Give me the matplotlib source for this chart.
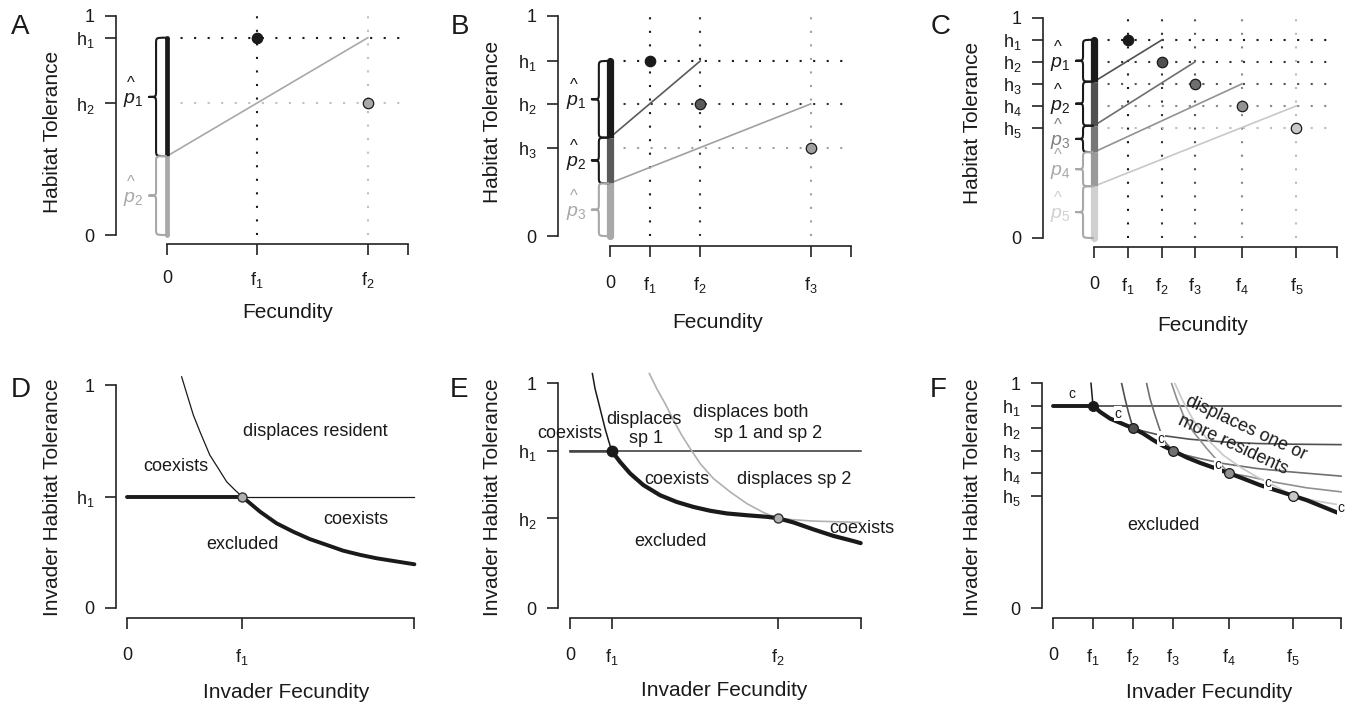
import matplotlib
matplotlib.use('Agg')
import matplotlib.pyplot as plt
from matplotlib.path import Path
from matplotlib.patches import PathPatch

plt.rcParams['font.family'] = ['Liberation Sans', 'DejaVu Sans']
plt.rcParams['mathtext.fontset'] = 'custom'
plt.rcParams['mathtext.rm'] = 'Liberation Sans'
plt.rcParams['mathtext.it'] = 'Liberation Sans:italic'

W, H = 1350, 707

# ---------------- data: top row (fecundity / tolerance trade-off) ----------
a_fec = [1.0, 2.23]
a_tol = [0.9, 0.6]
a_cut = [0.36]              # boundaries between p-hat segments on the bar
a_xmax = 2.68

b_fec = [1.0, 2.25, 5.0]
b_tol = [0.795, 0.6, 0.4]
b_cut = [0.447, 0.24]
b_xmax = 6.0

c_fec = [1.0, 2.0, 2.97, 4.35, 5.95]
c_tol = [0.9, 0.8, 0.7, 0.6, 0.5]
c_cut = [0.71, 0.51, 0.39, 0.235]
c_xmax = 7.15

# ---------------- data: bottom row (invasion boundaries) -------------------
d_f1, d_h1, d_xmax = 1.0, 0.5, 2.5
d_thin_x = [0.475, 0.524, 0.577, 0.635, 0.72, 0.794, 0.867, 0.939, 1.0]
d_thin_y = [1.037, 0.954, 0.865, 0.79, 0.686, 0.626, 0.566, 0.529, 0.5]
d_thick_x = [1.0, 1.157, 1.30, 1.446, 1.59, 1.736, 1.88, 2.03, 2.17, 2.316, 2.5]
d_thick_y = [0.5, 0.432, 0.38, 0.342, 0.309, 0.283, 0.257, 0.238, 0.223, 0.211, 0.196]

e_fec = [1.0, 5.0]
e_tol = [0.7, 0.4]
e_xmax = 7.0
e_thin_x = [0.538, 0.602, 0.683, 0.763, 0.843, 0.924, 1.0]
e_thin_y = [1.043, 0.976, 0.917, 0.858, 0.799, 0.747, 0.702]
e_thick_x = [1.0, 1.205, 1.446, 1.767, 2.169, 2.57, 2.97, 3.373, 3.775, 4.257,
             4.739, 5.0, 5.382, 5.863, 6.345, 6.827, 7.0]
e_thick_y = [0.7, 0.65, 0.599, 0.547, 0.502, 0.472, 0.45, 0.433, 0.421, 0.413,
             0.406, 0.4, 0.381, 0.35, 0.321, 0.298, 0.289]
e_gray_x = [1.911, 2.088, 2.289, 2.49, 2.69, 2.892, 3.133, 3.454, 3.855, 4.257,
            4.659, 5.0, 5.382, 5.863, 6.426, 7.0]
e_gray_y = [1.043, 0.976, 0.91, 0.836, 0.769, 0.71, 0.643, 0.576, 0.517, 0.465,
            0.425, 0.4, 0.393, 0.387, 0.384, 0.381]

f_fec = [1.0, 2.0, 3.0, 4.4, 6.0]
f_tol = [0.9, 0.8, 0.7, 0.6, 0.5]
f_xmax = 7.2
f_thin_x = [0.95, 1.0]
f_thin_y = [1.0, 0.9]
f_thick_x = [1.0, 1.175, 1.425, 1.717, 2.0, 2.258, 2.508, 2.758, 3.0, 3.342, 3.675,
             4.008, 4.4, 4.758, 5.175, 5.592, 6.0, 6.342, 6.758, 7.2]
f_thick_y = [0.9, 0.873, 0.843, 0.821, 0.8, 0.776, 0.747, 0.721, 0.7, 0.67, 0.646,
             0.625, 0.6, 0.576, 0.547, 0.523, 0.5, 0.48, 0.45, 0.418]
f_res_x = [
    [1.717, 1.8, 1.883, 2.0, 2.258, 2.675, 3.425, 4.258, 5.092, 5.925, 7.2],
    [2.342, 2.425, 2.55, 2.675, 2.8, 3.0, 3.258, 3.675, 4.258, 5.092, 5.925, 7.2],
    [2.967, 3.092, 3.258, 3.508, 3.842, 4.175, 4.4, 4.842, 5.508, 6.342, 7.2],
    [3.05, 3.258, 3.508, 3.842, 4.258, 4.675, 5.092, 5.508, 6.0, 6.592, 7.2],
]
f_res_y = [
    [0.998, 0.932, 0.873, 0.8, 0.787, 0.769, 0.751, 0.739, 0.732, 0.729, 0.727],
    [0.998, 0.932, 0.858, 0.791, 0.739, 0.7, 0.683, 0.665, 0.643, 0.621, 0.606, 0.587],
    [0.998, 0.932, 0.858, 0.784, 0.71, 0.643, 0.6, 0.587, 0.561, 0.535, 0.517],
    [0.998, 0.917, 0.836, 0.754, 0.68, 0.628, 0.584, 0.547, 0.5, 0.476, 0.458],
]
f_c_x = [0.47, 1.62, 2.69, 4.13, 5.38, 7.19]
f_c_y = [0.954, 0.865, 0.754, 0.636, 0.557, 0.443]

INK = '#1a1a1a'
fig = plt.figure(figsize=(W / 100, H / 100), dpi=100)


def px_axes(box, xlim, ylim):
    L, T, R, B = box
    ax = fig.add_axes([L / W, 1 - B / H, (R - L) / W, (B - T) / H])
    ax.set_xlim(*xlim)
    ax.set_ylim(*ylim)
    ax.patch.set_visible(False)
    for s in ['top', 'right']:
        ax.spines[s].set_visible(False)
    for s in ['left', 'bottom']:
        ax.spines[s].set_linewidth(1.2)
        ax.spines[s].set_color('#222222')
    return ax


def r_ticks(ax, xt, xl, yt, yl, xmax, xpad=13):
    ax.spines['left'].set_bounds(0, 1)
    ax.spines['bottom'].set_bounds(0, xmax)
    ax.set_xticks(xt, xl)
    ax.set_yticks(yt, yl)
    ax.tick_params(axis='both', direction='out', length=8, width=1.2,
                   color='#222222', labelsize=13, labelcolor=INK)
    ax.tick_params(axis='x', pad=xpad)
    ax.tick_params(axis='y', pad=7.5)


def scale(ax):
    p0 = ax.transData.transform((0, 0))
    p1 = ax.transData.transform((1, 1))
    return p1[0] - p0[0], p1[1] - p0[1]


def brace(ax, y_top, y_bot, color):
    u, v = scale(ax)
    xt, xl, xh = -18 / u, -11 / u, -1 / u
    r = min(6 / v, (y_top - y_bot) / 4)
    ym = (y_top + y_bot) / 2
    verts = [(xh, y_top), (xl, y_top), (xl, y_top), (xl, y_top - r),
             (xl, ym + r), (xl, ym), (xl, ym), (xt, ym),
             (xl, ym), (xl, ym), (xl, ym - r),
             (xl, y_bot + r), (xl, y_bot), (xl, y_bot), (xh, y_bot)]
    codes = [Path.MOVETO, Path.CURVE4, Path.CURVE4, Path.CURVE4,
             Path.LINETO, Path.CURVE4, Path.CURVE4, Path.CURVE4,
             Path.CURVE4, Path.CURVE4, Path.CURVE4,
             Path.LINETO, Path.CURVE4, Path.CURVE4, Path.CURVE4]
    ax.add_patch(PathPatch(Path(verts, codes), fc='none', ec=color, lw=1.5,
                           zorder=5, capstyle='round', joinstyle='round'))


def phat(ax, k, ym, color):
    # italic p with a detached caret above it
    u, v = scale(ax)
    ax.text(-34 / u, ym - 6 / v, '$p_\\mathit{%d}$' % k,
            color=color, fontsize=14, ha='center', va='baseline')
    ax.text(-36 / u, ym + 9 / v, '^', color=color, fontsize=12,
            ha='center', va='baseline')


def top_panel(ax, fec, tol, cuts, xmax, sp_cols, dot_cols, bar_cols,
              brace_cols, lab_cols, bar_lw):
    dots = (0, (1.0, 5.5))
    for f, c in zip(fec, dot_cols):
        ax.plot([f, f], [0, 1], color=c, lw=1.5, ls=dots, zorder=1)
    for h, c in zip(tol, dot_cols):
        ax.plot([0, xmax], [h, h], color=c, lw=1.5, ls=dots, zorder=1)
    for i, cut in enumerate(cuts):
        ax.plot([0, fec[i + 1]], [cut, tol[i]], color=sp_cols[i + 1],
                lw=1.2, zorder=2)
    bounds = [tol[0]] + list(cuts) + [0]
    for i in range(len(fec)):
        ax.plot([0, 0], [bounds[i], bounds[i + 1]], color=bar_cols[i],
                lw=bar_lw, solid_capstyle='butt', zorder=4)
    ax.plot([0], [bounds[0]], 'o', ms=bar_lw, color=bar_cols[0], mew=0, zorder=4)
    ax.plot([0], [0], 'o', ms=bar_lw, color=bar_cols[-1], mew=0, zorder=4)
    for i in range(len(fec)):
        brace(ax, bounds[i], bounds[i + 1], brace_cols[i])
        phat(ax, i + 1, (bounds[i] + bounds[i + 1]) / 2, lab_cols[i])
    for f, h, c in zip(fec, tol, sp_cols):
        ax.plot([f], [h], 'o', ms=7.5, mfc=c, mec=INK, mew=0.9, zorder=6)


def sub(s, n):
    return '$\\mathregular{%s_{%d}}$' % (s, n)


# ---------------- panel A ----------------
ax = px_axes((116, 7, 412, 244), (-0.567, 2.72), (-0.041, 1.04))
r_ticks(ax, [0] + a_fec + [a_xmax], ['0', sub('f', 1), sub('f', 2), ''],
        [0] + a_tol[::-1] + [1], ['0', sub('h', 2), sub('h', 1), '1'], a_xmax, xpad=11)
top_panel(ax, a_fec, a_tol, a_cut, a_xmax,
          sp_cols=[INK, '#a8a8a8'], dot_cols=[INK, '#c0c0c0'],
          bar_cols=[INK, '#a8a8a8'], brace_cols=[INK, '#a8a8a8'],
          lab_cols=[INK, '#a8a8a8'], bar_lw=3.4)

# ---------------- panel B ----------------
ax = px_axes((558, 7, 855, 246), (-1.29, 6.1), (-0.045, 1.04))
r_ticks(ax, [0] + b_fec + [b_xmax], ['0', sub('f', 1), sub('f', 2), sub('f', 3), ''],
        [0] + b_tol[::-1] + [1],
        ['0', sub('h', 3), sub('h', 2), sub('h', 1), '1'], b_xmax)
top_panel(ax, b_fec, b_tol, b_cut, b_xmax,
          sp_cols=[INK, '#5a5a5a', '#a0a0a0'], dot_cols=[INK, '#333333', '#a0a0a0'],
          bar_cols=[INK, '#5a5a5a', '#a8a8a8'], brace_cols=[INK, INK, '#a8a8a8'],
          lab_cols=[INK, INK, '#a8a8a8'], bar_lw=5.2)

# ---------------- panel C ----------------
ax = px_axes((1043, 9, 1341, 247), (-1.5, 7.26), (-0.041, 1.04))
r_ticks(ax, [0] + c_fec + [c_xmax], ['0'] + [sub('f', i) for i in range(1, 6)] + [''],
        [0] + c_tol[::-1] + [1],
        ['0'] + [sub('h', i) for i in range(5, 0, -1)] + ['1'], c_xmax)
top_panel(ax, c_fec, c_tol, c_cut, c_xmax,
          sp_cols=[INK, '#505050', '#6e6e6e', '#929292', '#c8c8c8'],
          dot_cols=[INK, '#333333', '#555555', '#888888', '#bbbbbb'],
          bar_cols=[INK, '#505050', '#777777', '#9a9a9a', '#d0d0d0'],
          brace_cols=[INK, INK, INK, '#a8a8a8', '#a8a8a8'],
          lab_cols=[INK, INK, '#808080', '#a8a8a8', '#d0d0d0'], bar_lw=5.2)

TXT = dict(fontsize=13, color=INK, ha='center', va='center')

# ---------------- panel D ----------------
ax = px_axes((116, 373, 419, 618), (-0.096, 2.54), (-0.045, 1.054))
r_ticks(ax, [0, d_f1, d_xmax], ['0', sub('f', 1), ''],
        [0, d_h1, 1], ['0', sub('h', 1), '1'], d_xmax)
ax.plot([0, d_f1], [d_h1, d_h1], color=INK, lw=2.8, solid_capstyle='round')
ax.plot([d_f1, d_xmax], [d_h1, d_h1], color=INK, lw=0.9)
ax.plot(d_thin_x, d_thin_y, color=INK, lw=0.9)
ax.plot(d_thick_x, d_thick_y, color=INK, lw=2.8, solid_capstyle='round')
ax.plot([d_f1], [d_h1], 'o', ms=6.5, mfc='#b0b0b0', mec='#333333', mew=1, zorder=5)
ax.text(1.64, 0.79, 'displaces resident', **TXT)
ax.text(0.42, 0.634, 'coexists', **TXT)
ax.text(1.99, 0.399, 'coexists', **TXT)
ax.text(1.0, 0.283, 'excluded', **TXT)

# ---------------- panel E ----------------
ax = px_axes((558, 372, 864, 618), (-0.29, 7.08), (-0.044, 1.05))
r_ticks(ax, [0] + e_fec + [e_xmax], ['0', sub('f', 1), sub('f', 2), ''],
        [0] + e_tol[::-1] + [1], ['0', sub('h', 2), sub('h', 1), '1'], e_xmax)
ax.plot([0, e_xmax], [e_tol[0], e_tol[0]], color='#333333', lw=1.1)
ax.plot([0, e_fec[0]], [e_tol[0], e_tol[0]], color='#444444', lw=1.8)
ax.plot(e_gray_x, e_gray_y, color='#b0b0b0', lw=1.2)
ax.plot(e_thin_x, e_thin_y, color=INK, lw=1.1)
ax.plot(e_thick_x, e_thick_y, color=INK, lw=3.0, solid_capstyle='round')
ax.plot([e_fec[0]], [e_tol[0]], 'o', ms=7.5, color=INK, zorder=5)
ax.plot([e_fec[1]], [e_tol[1]], 'o', ms=6.5, mfc='#b0b0b0', mec='#333333', mew=1, zorder=5)
ax.text(0.0, 0.776, 'coexists', **TXT)
ax.text(1.77, 0.84, 'displaces', **TXT)
ax.text(1.83, 0.754, 'sp 1', **TXT)
ax.text(4.34, 0.87, 'displaces both', **TXT)
ax.text(4.78, 0.775, 'sp 1 and sp 2', **TXT)
ax.text(2.57, 0.572, 'coexists', **TXT)
ax.text(5.4, 0.572, 'displaces sp 2', **TXT)
ax.text(7.03, 0.354, 'coexists', **TXT)
ax.text(2.43, 0.298, 'excluded', **TXT)

# ---------------- panel F ----------------
ax = px_axes((1042, 372, 1345, 618), (-0.275, 7.3), (-0.044, 1.05))
r_ticks(ax, [0] + f_fec + [f_xmax], ['0'] + [sub('f', i) for i in range(1, 6)] + [''],
        [0] + f_tol[::-1] + [1],
        ['0'] + [sub('h', i) for i in range(5, 0, -1)] + ['1'], f_xmax)
f_cols = [INK, '#505050', '#707070', '#909090', '#c8c8c8']
ax.plot([0, f_xmax], [f_tol[0], f_tol[0]], color='#333333', lw=1.1)
ax.plot([0, f_fec[0]], [f_tol[0], f_tol[0]], color=INK, lw=2.8, solid_capstyle='round')
for xs, ys, c in zip(f_res_x, f_res_y, f_cols[1:]):
    ax.plot(xs, ys, color=c, lw=1.2)
ax.plot(f_thin_x, f_thin_y, color=INK, lw=1.1)
ax.plot(f_thick_x, f_thick_y, color=INK, lw=3.0, solid_capstyle='round')
for f, h, c in zip(f_fec, f_tol, f_cols):
    ax.plot([f], [h], 'o', ms=7, mfc=c, mec=INK, mew=0.9, zorder=6)
for x, y in zip(f_c_x, f_c_y):
    ax.text(x, y, 'c', fontsize=10, color=INK, ha='center', va='center', zorder=4,
            bbox=dict(fc='white', ec='none', pad=0.3))
ax.text(4.84, 0.80, 'displaces one or', rotation=-25, rotation_mode='anchor', **TXT)
ax.text(4.51, 0.724, 'more residents', rotation=-25, rotation_mode='anchor', **TXT)
ax.text(2.76, 0.369, 'excluded', **TXT)

# ---------------- labels ----------------
LBL = dict(fontsize=15, color=INK, ha='center', va='center')
for x, y, s in [(288, 312, 'Fecundity'), (718, 322, 'Fecundity'), (1203, 326, 'Fecundity'),
                (286, 692, 'Invader Fecundity'), (724, 690, 'Invader Fecundity'),
                (1209, 693, 'Invader Fecundity')]:
    fig.text(x / W, 1 - y / H, s, **LBL)
for x, y, s in [(53, 132, 'Habitat Tolerance'), (492, 122, 'Habitat Tolerance'),
                (972, 123, 'Habitat Tolerance'), (53, 497, 'Invader Habitat Tolerance'),
                (492, 497, 'Invader Habitat Tolerance'), (972, 497, 'Invader Habitat Tolerance')]:
    fig.text(x / W, 1 - y / H, s, rotation=90, **LBL)
for x, y, s in [(20, 27, 'A'), (460, 27, 'B'), (941, 27, 'C'),
                (21, 390, 'D'), (459, 390, 'E'), (938, 390, 'F')]:
    fig.text(x / W, 1 - y / H, s, fontsize=20, color=INK, ha='center', va='center')

fig.savefig('out.png', dpi=100)
